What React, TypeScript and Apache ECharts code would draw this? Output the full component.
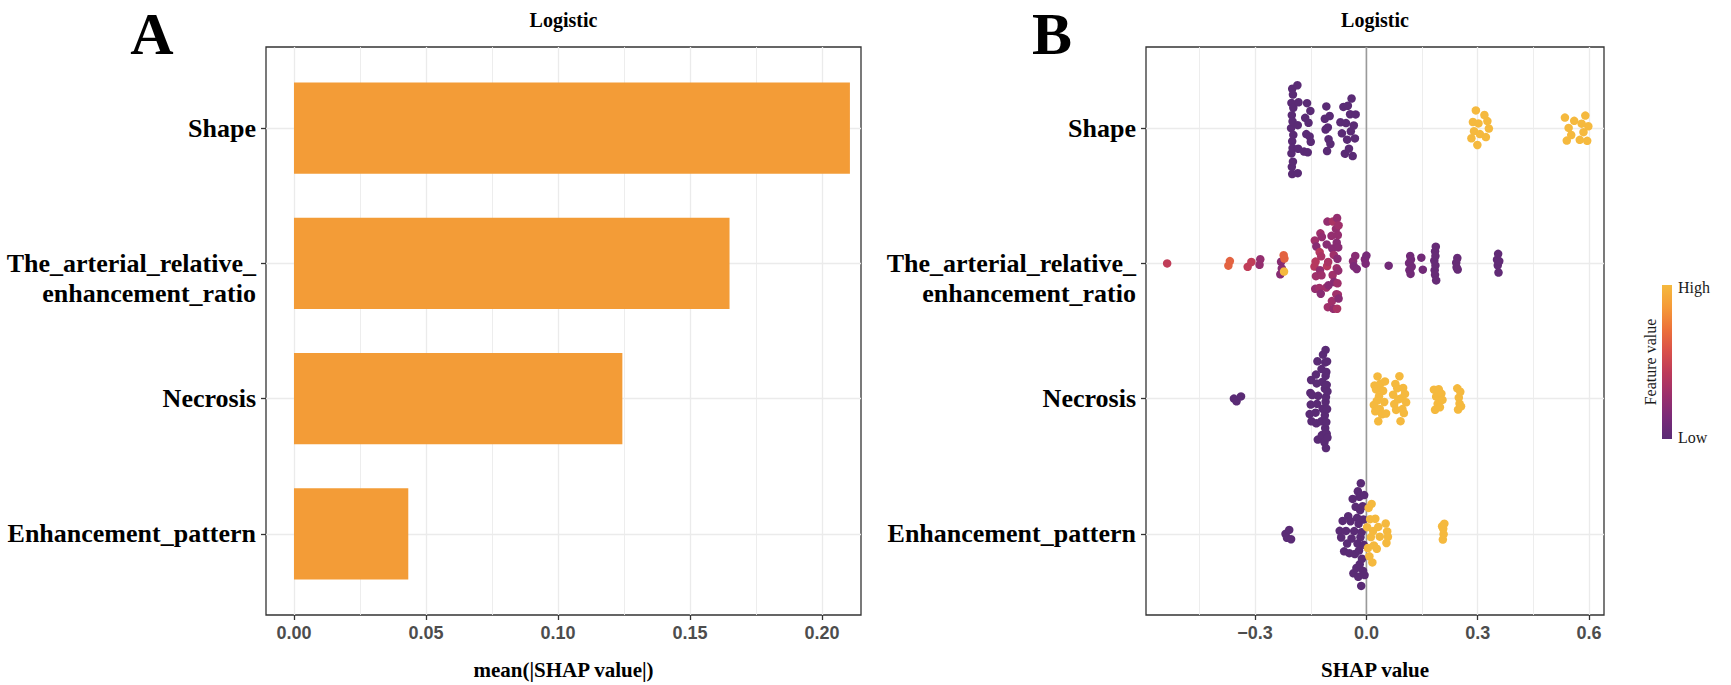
import React, { useEffect, useRef } from "react";
import * as echarts from "echarts";

// ---------- data ----------
const ROWS = ["Shape", "\nThe_arterial_relative_\nenhancement_ratio", "Necrosis", "Enhancement_pattern"];
const MEAN_ABS_SHAP = [0.2106, 0.165, 0.1244, 0.0433];
const X_TICKS_A = [0, 0.05, 0.1, 0.15, 0.2];
const X_TICKS_B = [-0.3, 0, 0.3, 0.6];
const Y_TICKS = [1, 2, 3, 4];

// Shape (binary feature): SHAP values of low / high feature value
const shapeLow = [
  -0.203, -0.202, -0.202, -0.201, -0.201, -0.2, -0.2, -0.2, -0.199, -0.199, -0.198, -0.198, -0.197, -0.197,
  -0.186, -0.185, -0.185, -0.184, -0.183,
  -0.168, -0.165, -0.162, -0.16, -0.158, -0.156, -0.153, -0.151, -0.15,
  -0.112, -0.11, -0.108, -0.106, -0.104, -0.102, -0.099, -0.097,
  -0.07, -0.066, -0.062, -0.058, -0.055, -0.052, -0.05, -0.047, -0.044, -0.042, -0.04, -0.037, -0.034, -0.031, -0.029,
];
const shapeHigh = [
  0.283, 0.287, 0.29, 0.295, 0.299, 0.302, 0.306, 0.318, 0.322, 0.326, 0.33,
  0.535, 0.54, 0.545, 0.552, 0.56, 0.575, 0.58, 0.585, 0.59, 0.595, 0.598,
];

// arterial relative enhancement ratio (continuous feature): [SHAP, feature value 0..1]
const arterialPoints: [number, number][] = [
  [-0.537, 0.45], [-0.372, 0.65], [-0.368, 0.65], [-0.32, 0.45], [-0.31, 0.45], [-0.288, 0.25], [-0.286, 0.25],
  [-0.232, 0.2], [-0.23, 0.2], [-0.228, 0.2], [-0.223, 0.65], [-0.221, 0.65], [-0.222, 1.0],
  [-0.14, 0.4], [-0.139, 0.3], [-0.138, 0.25], [-0.137, 0.4], [-0.136, 0.3], [-0.135, 0.2],
  [-0.127, 0.3], [-0.126, 0.4], [-0.125, 0.25], [-0.124, 0.3], [-0.123, 0.2], [-0.122, 0.35], [-0.121, 0.3], [-0.12, 0.25],
  [-0.108, 0.3], [-0.107, 0.2], [-0.106, 0.4], [-0.105, 0.25], [-0.104, 0.3], [-0.103, 0.35], [-0.102, 0.2],
  [-0.094, 0.25], [-0.093, 0.3], [-0.092, 0.2], [-0.091, 0.3], [-0.09, 0.35], [-0.089, 0.25], [-0.088, 0.3], [-0.087, 0.2],
  [-0.082, 0.25], [-0.081, 0.3], [-0.08, 0.2], [-0.08, 0.3], [-0.079, 0.25], [-0.079, 0.35], [-0.078, 0.2],
  [-0.078, 0.3], [-0.077, 0.25], [-0.077, 0.3], [-0.076, 0.2], [-0.076, 0.25], [-0.075, 0.3], [-0.075, 0.2],
  [-0.036, 0.2], [-0.034, 0.15], [-0.03, 0.2], [-0.026, 0.15],
  [-0.004, 0.15], [-0.002, 0.15], [0.0, 0.12], [0.06, 0.1],
  [0.115, 0.1], [0.116, 0.1], [0.118, 0.1], [0.119, 0.1], [0.12, 0.1], [0.122, 0.1], [0.148, 0.1], [0.152, 0.1],
  [0.183, 0.05], [0.184, 0.05], [0.185, 0.05], [0.185, 0.05], [0.186, 0.05], [0.186, 0.05], [0.187, 0.05], [0.188, 0.05],
  [0.242, 0.05], [0.243, 0.05], [0.245, 0.05], [0.246, 0.05],
  [0.352, 0.03], [0.354, 0.03], [0.355, 0.03], [0.356, 0.03], [0.358, 0.03],
];

// Necrosis (binary)
const necrosisLow = [
  -0.357, -0.35, -0.338,
  -0.153, -0.151, -0.15, -0.149, -0.148, -0.146,
  -0.137, -0.136, -0.135, -0.134, -0.133, -0.132, -0.131, -0.13,
  -0.122, -0.121, -0.12, -0.119, -0.118, -0.117,
  -0.113, -0.112, -0.112, -0.111, -0.111, -0.11, -0.11, -0.11, -0.109, -0.109, -0.108, -0.108, -0.107, -0.107, -0.106,
  -0.106, -0.105, -0.105,
];
const necrosisHigh = [
  0.02, 0.022, 0.024, 0.026, 0.028, 0.03, 0.032, 0.034, 0.036, 0.038,
  0.042, 0.045, 0.048, 0.05, 0.053,
  0.072, 0.075, 0.078, 0.08, 0.083, 0.086, 0.089,
  0.092, 0.095, 0.097, 0.099, 0.101, 0.104, 0.107,
  0.182, 0.185, 0.188, 0.192, 0.195, 0.198, 0.202, 0.205,
  0.245, 0.247, 0.249, 0.251, 0.253, 0.255,
];

// Enhancement pattern (binary)
const enhancementLow = [
  -0.218, -0.214, -0.208, -0.203,
  -0.072, -0.068, -0.064, -0.06,
  -0.055, -0.052, -0.049, -0.046, -0.043, -0.04,
  -0.037, -0.035, -0.033, -0.031, -0.029, -0.027,
  -0.025, -0.024, -0.023, -0.022, -0.021, -0.02, -0.019, -0.018, -0.017, -0.016, -0.015, -0.014, -0.013, -0.012,
  -0.01, -0.009, -0.008, -0.007, -0.006, -0.005,
];
const enhancementHigh = [
  0.002, 0.004, 0.006, 0.008, 0.01, 0.012, 0.014, 0.016, 0.018, 0.02,
  0.024, 0.028, 0.032, 0.036,
  0.052, 0.054, 0.056, 0.058,
  0.204, 0.206, 0.207, 0.208, 0.21,
];

// ---------- style ----------
const BAR_COLOR = "#F39C37";
const CMAP = ["#5a2b75", "#7b2a78", "#9c2f6c", "#bc3a5a", "#d9514a", "#ec723a", "#f59a38", "#f5b93e"];
const SERIF = "'Liberation Serif', 'Times New Roman', serif";
const SANS = "'Liberation Sans', Arial, sans-serif";
const GRID_COLOR = "#ebebeb";
const BORDER = "#333333";
const Y_MIN = 0.4;
const Y_MAX = 4.6;

// quasirandom (van der Corput) swarm offsets, as ggbeeswarm does
function vdc(n: number): number[] {
  const out: number[] = [];
  for (let i = 1; i <= n; i++) {
    let x = 0, f = 0.5, k = i;
    while (k > 0) { x += f * (k % 2); k = Math.floor(k / 2); f /= 2; }
    out.push(x);
  }
  return out;
}
function quasirandom(xs: number[], bw: number, width: number): number[] {
  const dens = xs.map((x) => xs.reduce((s, xj) => s + Math.exp(-0.5 * ((x - xj) / bw) ** 2), 0));
  const maxD = Math.max(...dens);
  const order = xs.map((_, i) => i).sort((a, b) => xs[a] - xs[b] || a - b);
  const v = vdc(xs.length);
  const off: number[] = new Array(xs.length);
  order.forEach((idx, r) => { off[idx] = (v[r] - 0.5) * 2 * width * (dens[idx] / maxD); });
  return off;
}

function buildSwarm() {
  const rows: [number, number][][] = [
    [...shapeLow.map((v) => [v, 0] as [number, number]), ...shapeHigh.map((v) => [v, 1] as [number, number])],
    arterialPoints,
    [...necrosisLow.map((v) => [v, 0] as [number, number]), ...necrosisHigh.map((v) => [v, 1] as [number, number])],
    [...enhancementLow.map((v) => [v, 0] as [number, number]), ...enhancementHigh.map((v) => [v, 1] as [number, number])],
  ];
  const out: number[][] = [];
  rows.forEach((pts, i) => {
    const xs = pts.map((p) => p[0]);
    const off = quasirandom(xs, 0.015, 0.4);
    pts.forEach((p, j) => out.push([p[0], 4 - i + off[j], p[1]]));
  });
  return out;
}

export default function App() {
  const ref = useRef<HTMLDivElement>(null);
  useEffect(() => {
    if (!ref.current) return;
    const chart = echarts.init(ref.current, undefined, { renderer: "svg" });
    const yLabel = (v: number) => ROWS[4 - Math.round(v)] ?? "";
    const yAxisCommon = (gridIndex: number) => ({
      type: "value" as const,
      gridIndex,
      min: Y_MIN,
      max: Y_MAX,
      splitNumber: 4,
      axisLine: { show: false, onZero: false },
      axisTick: { show: true, length: 5, customValues: Y_TICKS, lineStyle: { color: BORDER, width: 1.3 } },
      axisLabel: {
        customValues: Y_TICKS,
        formatter: yLabel,
        margin: 10,
        color: "#000",
        fontFamily: SERIF,
        fontWeight: "bold" as const,
        fontSize: 26,
        lineHeight: 30,
      },
      splitLine: { show: true, lineStyle: { color: GRID_COLOR, width: 1.3 } },
    });
    const xAxisCommon = {
      type: "value" as const,
      axisLine: { show: false, onZero: false },
      minorTick: { show: false, splitNumber: 2 },
      minorSplitLine: { show: true, lineStyle: { color: GRID_COLOR, width: 0.9 } },
      splitLine: { show: true, lineStyle: { color: GRID_COLOR, width: 1.3 } },
      nameLocation: "middle" as const,
      nameGap: 44,
      nameTextStyle: { color: "#000", fontFamily: SERIF, fontWeight: "bold" as const, fontSize: 21 },
    };
    const tickLabel = { color: "#4d4d4d", fontFamily: SANS, fontWeight: "bold" as const, fontSize: 18, margin: 9 };

    const swarm = buildSwarm();

    chart.setOption({
      animation: false,
      backgroundColor: "#ffffff",
      grid: [
        { left: 266, top: 47, width: 595, height: 572, show: true, borderColor: BORDER, borderWidth: 1.3, backgroundColor: "transparent" },
        { left: 1146, top: 47, width: 458, height: 572, show: true, borderColor: BORDER, borderWidth: 1.3, backgroundColor: "transparent" },
      ],
      xAxis: [
        {
          ...xAxisCommon,
          gridIndex: 0,
          min: -0.0106,
          max: 0.2148,
          splitNumber: 5,
          name: "mean(|SHAP value|)",
          axisTick: { show: true, length: 5, customValues: X_TICKS_A, lineStyle: { color: BORDER, width: 1.3 } },
          axisLabel: { ...tickLabel, customValues: X_TICKS_A, formatter: (v: number) => v.toFixed(2) },
        },
        {
          ...xAxisCommon,
          gridIndex: 1,
          min: -0.594,
          max: 0.6403,
          splitNumber: 4,
          name: "SHAP value",
          axisTick: { show: true, length: 5, customValues: X_TICKS_B, lineStyle: { color: BORDER, width: 1.3 } },
          axisLabel: {
            ...tickLabel,
            customValues: X_TICKS_B,
            formatter: (v: number) => (v < 0 ? "\u2212" + Math.abs(v).toFixed(1) : v.toFixed(1)),
          },
        },
      ],
      yAxis: [yAxisCommon(0), yAxisCommon(1)],
      visualMap: {
        type: "continuous",
        show: false,
        min: 0,
        max: 1,
        dimension: 2,
        seriesIndex: 2,
        inRange: { color: CMAP },
      },
      series: [
        {
          type: "custom",
          xAxisIndex: 0,
          yAxisIndex: 0,
          data: MEAN_ABS_SHAP.map((v, i) => [v, 4 - i]),
          encode: { x: 0, y: 1 },
          renderItem: (_params: any, api: any) => {
            const v = api.value(0);
            const y = api.value(1);
            const p0 = api.coord([0, y]);
            const p1 = api.coord([v, y]);
            const h = api.size([0, 0.675])[1];
            return {
              type: "rect",
              shape: { x: p0[0], y: p0[1] - h / 2, width: p1[0] - p0[0], height: h },
              style: { fill: BAR_COLOR },
            };
          },
          z: 2,
        },
        {
          type: "line",
          xAxisIndex: 1,
          yAxisIndex: 1,
          data: [[0, Y_MIN], [0, Y_MAX]],
          symbol: "none",
          lineStyle: { color: "#9a9a9a", width: 1.6 },
          silent: true,
          z: 1,
        },
        {
          type: "scatter",
          xAxisIndex: 1,
          yAxisIndex: 1,
          data: swarm,
          symbolSize: 8.5,
          itemStyle: { opacity: 1 },
          z: 3,
        },
      ],
      graphic: [
        { type: "text", x: 152, y: 4, style: { text: "A", font: `bold 60px ${SERIF}`, fill: "#000", align: "center", verticalAlign: "top" } },
        { type: "text", x: 1052, y: 4, style: { text: "B", font: `bold 60px ${SERIF}`, fill: "#000", align: "center", verticalAlign: "top" } },
        { type: "text", x: 563.5, y: 20, style: { text: "Logistic", font: `bold 20px ${SERIF}`, fill: "#000", align: "center", verticalAlign: "middle" } },
        { type: "text", x: 1375, y: 20, style: { text: "Logistic", font: `bold 20px ${SERIF}`, fill: "#000", align: "center", verticalAlign: "middle" } },
        {
          type: "rect",
          shape: { x: 1662, y: 285, width: 10, height: 154 },
          style: {
            fill: new echarts.graphic.LinearGradient(
              0, 0, 0, 1,
              CMAP.slice().reverse().map((c, i, arr) => ({ offset: i / (arr.length - 1), color: c }))
            ),
          },
        },
        { type: "text", x: 1678, y: 287, style: { text: "High", font: `16px ${SERIF}`, fill: "#1a1a1a", align: "left", verticalAlign: "middle" } },
        { type: "text", x: 1678, y: 437, style: { text: "Low", font: `16px ${SERIF}`, fill: "#1a1a1a", align: "left", verticalAlign: "middle" } },
        {
          type: "text",
          x: 1650,
          y: 362,
          rotation: Math.PI / 2,
          style: { text: "Feature value", font: `16px ${SERIF}`, fill: "#1a1a1a", align: "center", verticalAlign: "middle" },
        },
      ],
    });
    return () => chart.dispose();
  }, []);
  return <div ref={ref} style={{ position: "fixed", left: 0, top: 0, width: 1731, height: 685, background: "#fff" }} />;
}
